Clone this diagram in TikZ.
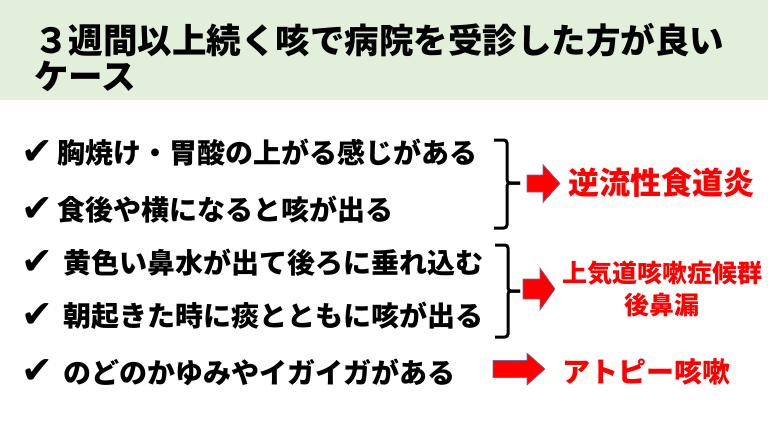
\documentclass[tikz,border=0pt]{standalone}
\usepackage{fontspec}
\newfontfamily\jpfont{Noto Sans CJK JP}
\newfontfamily\symfont{DejaVu Sans}
\usetikzlibrary{positioning}
\definecolor{headgreen}{HTML}{E2EFDA}
\definecolor{arrowred}{HTML}{FF0000}
\definecolor{arrowline}{HTML}{6A6AA8}

% block arrow: x start, x head, x tip, y centre, shaft half, head half
\newcommand{\blockarrow}[6]{%
    \draw[block_arrow] (#1,#4-#5) -- (#2,#4-#5) -- (#2,#4-#6) -- (#3,#4)
        -- (#2,#4+#6) -- (#2,#4+#5) -- (#1,#4+#5) -- cycle;}

\begin{document}
\begin{tikzpicture}[
    x=1pt, y=-1pt,
    every node/.style={inner sep=0pt, outer sep=0pt},
    heading/.style={
            anchor=west,
            font=\jpfont\bfseries\fontsize{34.5}{40}\selectfont
        },
    check/.style={
            font=\symfont\fontsize{38}{40}\selectfont
        },
    item/.style={
            anchor=west,
            font=\jpfont\bfseries\fontsize{28}{32}\selectfont
        },
    result/.style={
            text=arrowred,
            font=\jpfont\bfseries\fontsize{31}{36}\selectfont
        },
    small_result/.style={
            text=arrowred,
            font=\jpfont\bfseries\fontsize{25}{30}\selectfont
        },
    brace_line/.style={line width=3pt, rounded corners=3pt},
    block_arrow/.style={fill=arrowred, draw=arrowline, line width=0.6pt}
    ]

    \useasboundingbox (0,0) rectangle (768,432);

    % --- Title ---
    \fill[headgreen] (0,0) rectangle (768,100);
    \node[heading] (title_a) at (34,40) {３週間以上続く咳で病院を受診した方が良い};
    \node[heading] (title_b) at (34,76) {ケース};

    % --- Items ---
    \node[item] (heartburn) at (57,153) {胸焼け・胃酸の上がる感じがある};
    \node[check, left=4pt of heartburn] (check_a) {✔};
    \node[item] (after_meal) at (57,210) {食後や横になると咳が出る};
    \node[check, left=4pt of after_meal] (check_b) {✔};
    \node[item] (nasal) at (63,263) {黄色い鼻水が出て後ろに垂れ込む};
    \node[check, left=10pt of nasal] (check_c) {✔};
    \node[item] (phlegm) at (63,316) {朝起きた時に痰とともに咳が出る};
    \node[check, left=10pt of phlegm] (check_d) {✔};
    \node[item] (throat) at (63,372) {のどのかゆみやイガイガがある};
    \node[check, left=10pt of throat] (check_e) {✔};

    % --- Braces ---
    \coordinate (tip_a) at (520,183);
    \coordinate (tip_b) at (520,291);
    \draw[brace_line] (494,140) -| (507,183) -- (tip_a);
    \draw[brace_line] (tip_a) -- (507,183) |- (494,228);
    \draw[brace_line] (495,245) -| (508,291) -- (tip_b);
    \draw[brace_line] (tip_b) -- (508,291) |- (495,337);

    % --- Arrows ---
    \blockarrow{527}{543}{560}{183.5}{8.5}{19}
    \blockarrow{523}{540}{555}{289}{10}{21}
    \blockarrow{493}{527}{545}{369}{8.5}{16}

    % --- Results ---
    \node[result, anchor=west] (reflux) at (568,183) {逆流性食道炎};
    \node[small_result] (upper_airway) at (662,273) {上気道咳嗽症候群};
    \node[small_result] (postnasal) at (662,305) {後鼻漏};
    \node[result, anchor=west, font=\jpfont\bfseries\fontsize{28}{32}\selectfont] (atopic) at (562,372) {アトピー咳嗽};

\end{tikzpicture}
\end{document}
